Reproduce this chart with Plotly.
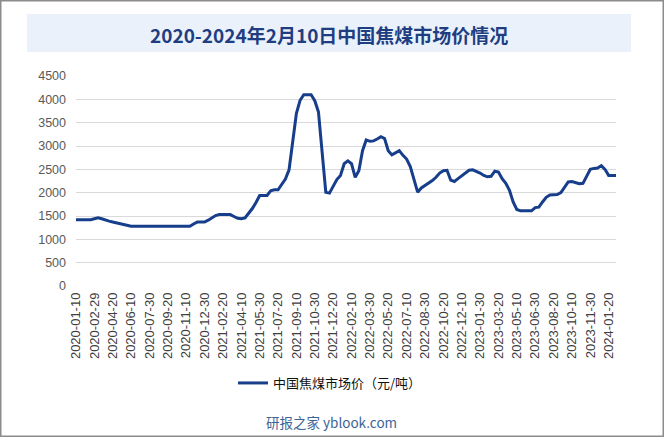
import calendar
import plotly.graph_objects as go

# ---- data ----
dates = []
for yr in range(2020, 2025):
    for mo in range(1, 13):
        for d in (10, 20, 30):
            dates.append(f"{yr}-{mo:02d}-{min(d, calendar.monthrange(yr, mo)[1]):02d}")
dates = dates[:148]

prices = [
    1420, 1420, 1420, 1420, 1420, 1440, 1460, 1440, 1410, 1390,
    1370, 1350, 1330, 1320, 1290, 1280, 1280, 1280, 1280, 1280,
    1280, 1280, 1280, 1280, 1280, 1280, 1280, 1280, 1280, 1280,
    1280, 1280, 1330, 1370, 1370, 1370, 1410, 1470, 1510, 1530,
    1530, 1530, 1530, 1490, 1450, 1440, 1460, 1560, 1660, 1790,
    1940, 1940, 1940, 2040, 2060, 2060, 2170, 2290, 2490, 3100,
    3700, 3980, 4100, 4100, 4100, 3970, 3730, 2870, 2010, 1990,
    2120, 2280, 2370, 2620, 2680, 2620, 2330, 2470, 2900, 3130,
    3100, 3110, 3150, 3200, 3160, 2900, 2810, 2850, 2900, 2800,
    2720, 2560, 2280, 2010, 2100, 2150, 2200, 2260, 2330, 2420,
    2470, 2480, 2270, 2240, 2300, 2360, 2440, 2480, 2490, 2460,
    2420, 2370, 2340, 2350, 2460, 2440, 2300, 2200, 2050, 1800,
    1640, 1610, 1610, 1610, 1610, 1680, 1690, 1800, 1900, 1950,
    1960, 1960, 2000, 2130, 2230, 2240, 2220, 2190, 2200, 2360,
    2500, 2520, 2530, 2580, 2500, 2370, 2370, 2370,
]

tick_labels = [
    "2020-01-10", "2020-02-29", "2020-04-20", "2020-06-10", "2020-07-30",
    "2020-09-20", "2020-11-10", "2020-12-30", "2021-02-20", "2021-04-10",
    "2021-05-30", "2021-07-20", "2021-09-10", "2021-10-30", "2021-12-20",
    "2022-02-10", "2022-03-30", "2022-05-20", "2022-07-10", "2022-08-30",
    "2022-10-20", "2022-12-10", "2023-01-30", "2023-03-20", "2023-05-10",
    "2023-06-30", "2023-08-20", "2023-10-10", "2023-11-30", "2024-01-20",
]
y_ticks = [0, 500, 1000, 1500, 2000, 2500, 3000, 3500, 4000, 4500]

series_name = "中国焦煤市场价（元/吨）"
title_text = "2020-2024年2月10日中国焦煤市场价情况"
source_text = "研报之家 yblook.com"

# ---- geometry helpers ----
W, H = 664, 437
L, R, T, B = 76, 48, 76, 151
PW, PH = W - L - R, H - T - B


def px(x):
    return (x - L) / PW


def py(y):
    return (H - B - y) / PH


fig = go.Figure()
fig.add_trace(go.Scatter(
    x=dates, y=prices, mode="lines", name=series_name,
    line=dict(color="#173E8A", width=3),
))

fig.update_layout(
    width=W, height=H,
    margin=dict(l=L, r=R, t=T, b=B),
    paper_bgcolor="white", plot_bgcolor="white",
    showlegend=True,
    legend=dict(
        orientation="h", x=px(233), xanchor="left", y=py(383), yanchor="middle",
        font=dict(family="Noto Sans CJK SC", size=13, color="#111111"),
        bgcolor="rgba(0,0,0,0)",
    ),
    xaxis=dict(
        type="category", range=[0, len(dates) - 1],
        tickmode="array", tickvals=tick_labels, ticktext=tick_labels,
        tickangle=-90, showgrid=False, zeroline=False,
        showline=False, ticks="",
        tickfont=dict(family="Liberation Sans", size=13, color="#404040"),
        ticklabelstandoff=3,
    ),
    yaxis=dict(
        range=[0, 4500], tickmode="array", tickvals=y_ticks,
        showgrid=True, gridcolor="#D9D9D9", gridwidth=1,
        zeroline=False, showline=False, ticks="",
        tickfont=dict(family="Liberation Sans", size=12.5, color="#595959"),
        ticklabelstandoff=9,
    ),
    shapes=[
        dict(type="rect", xref="paper", yref="paper",
             x0=px(27), x1=px(631), y0=py(52), y1=py(14),
             fillcolor="#EAF1FB", line=dict(width=0), layer="below"),
        dict(type="rect", xref="paper", yref="paper",
             x0=px(0.75), x1=px(W - 0.75), y0=py(H - 0.75), y1=py(0.75),
             fillcolor="rgba(0,0,0,0)", line=dict(color="#8C8C8C", width=1.5)),
    ],
    annotations=[
        dict(text=f"<b>{title_text}</b>", xref="paper", yref="paper",
             x=px(329), y=py(34), xanchor="center", yanchor="middle",
             showarrow=False,
             font=dict(family="Noto Sans CJK SC", size=19, color="#1F3E82")),
        dict(text=source_text, xref="paper", yref="paper",
             x=px(331), y=py(422), xanchor="center", yanchor="middle",
             showarrow=False,
             font=dict(family="Noto Sans CJK SC", size=13.5, color="#3E6494")),
    ],
)

fig.write_html("out.html")
